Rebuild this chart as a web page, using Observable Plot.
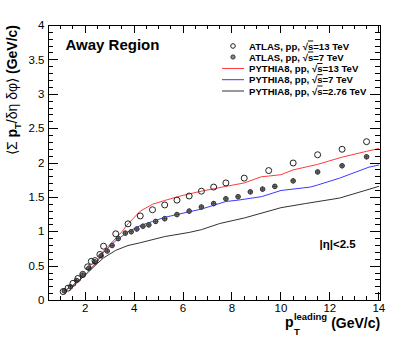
<!DOCTYPE html>
<html><head><meta charset="utf-8">
<script src="https://cdn.jsdelivr.net/npm/d3@7"></script>
<script src="https://cdn.jsdelivr.net/npm/@observablehq/plot@0.6"></script>
<style>body{margin:0;background:#fff}</style>
</head><body><div id="chart"></div>
<script>
// ATLAS data, pp 13 TeV (open circles)
const atlas13X = [1.1,1.3,1.5,1.7,1.9,2.1,2.25,2.4,2.6,2.75,3.25,3.75,4.25,4.75,5.25,5.75,6.25,6.75,7.25,7.75,8.5,9.5,10.5,11.5,12.5,13.5];
const atlas13Y = [0.13,0.18,0.25,0.32,0.38,0.49,0.57,0.58,0.67,0.79,0.97,1.115,1.23,1.32,1.39,1.46,1.52,1.59,1.65,1.71,1.78,1.89,2.0,2.12,2.2,2.31];
// ATLAS data, pp 7 TeV
const atlas7X = [1.15,1.4,1.65,1.9,2.15,2.4,2.65,2.9,3.1,3.35,3.64,3.88,4.11,4.36,4.6,4.88,5.25,5.75,6.25,6.75,7.25,7.75,8.25,8.75,9.25,9.75,10.5,11.5,12.5,13.5];
const atlas7Y = [0.14,0.2,0.29,0.37,0.47,0.56,0.65,0.72,0.8,0.9,0.98,1.0,1.04,1.08,1.1,1.15,1.19,1.25,1.3,1.36,1.41,1.48,1.51,1.58,1.62,1.66,1.74,1.87,1.96,2.09];
// PYTHIA8 curves
const py13X = [1.1,1.5,2,2.5,2.75,3,3.5,3.75,4.25,4.75,5.25,6,6.75,7.75,8.5,9.2,9.5,10,10.5,11.5,12.5,13.5,14];
const py13Y = [0.13,0.22,0.37,0.57,0.72,0.81,1.0,1.115,1.3,1.4,1.455,1.53,1.59,1.66,1.71,1.8,1.81,1.83,1.9,1.98,2.085,2.17,2.21];
const py7X = [1.1,1.5,2,2.5,2.75,3.25,3.75,4.25,4.75,5.25,5.75,6.75,7.75,8.25,9.2,10,11.2,11.5,12.4,13.6,14];
const py7Y = [0.13,0.22,0.37,0.57,0.7,0.87,1.0,1.09,1.15,1.21,1.25,1.33,1.44,1.46,1.51,1.6,1.65,1.68,1.78,1.94,1.97];
const py276X = [1.1,1.5,2,2.5,2.75,3.25,3.75,4.25,5.25,6.25,6.75,7.5,8.5,10,11,12.4,14];
const py276Y = [0.13,0.22,0.37,0.54,0.62,0.73,0.8,0.84,0.93,0.99,1.03,1.12,1.2,1.35,1.41,1.49,1.66];
// ticks
const xMajor = [2,4,6,8,10,12,14];
const xMinor = d3.range(1,14.01,0.5).filter(v => v % 2 !== 0);
const yMajor = [0,0.5,1,1.5,2,2.5,3,3.5,4];
const yMinor = d3.range(1,40).filter(k => k % 5 !== 0).map(k => k / 10);
const legendLabels = ["13 TeV","7 TeV","13 TeV","7 TeV","2.76 TeV"];

const zip = (xs, ys) => xs.map((x, i) => ({x, y: ys[i]}));
const a13 = zip(atlas13X, atlas13Y), a7 = zip(atlas7X, atlas7Y);
const p13 = zip(py13X, py13Y), p7 = zip(py7X, py7Y), p276 = zip(py276X, py276Y);

const W = 415, H = 344, mL = 48, mR = 35, mT = 25, mB = 44;
const xD = [0.5, 14.07], yD = [0, 4];

const chart = Plot.plot({
  width: W, height: H,
  marginLeft: mL, marginRight: mR, marginTop: mT, marginBottom: mB,
  style: {fontFamily: "Liberation Sans, Arial, sans-serif"},
  x: {domain: xD},
  y: {domain: yD},
  marks: [
    Plot.axisX({ticks: xMajor, tickSize: 0, tickPadding: 3, fontSize: 11.5, label: null, tickFormat: d => String(d), color: "#000"}),
    Plot.axisY({ticks: yMajor, tickSize: 0, tickPadding: 4, fontSize: 11.5, label: null, tickFormat: d => String(d), color: "#000"}),
    Plot.frame({stroke: "#000", fill: "none"}),
    Plot.line(p276, {x: "x", y: "y", stroke: "#333", strokeWidth: 1}),
    Plot.line(p7, {x: "x", y: "y", stroke: "#3b3bff", strokeWidth: 1}),
    Plot.line(p13, {x: "x", y: "y", stroke: "#ff3b3b", strokeWidth: 1}),
    Plot.dot(a7, {x: "x", y: "y", r: 2.3, fill: "#8a8a8a", stroke: "#333", strokeWidth: 1}),
    Plot.dot(a7, {x: "x", y: "y", r: 1.8, symbol: "plus", stroke: "#333", strokeWidth: 0.8}),
    Plot.dot(a13, {x: "x", y: "y", r: 3, fill: "none", stroke: "#222", strokeWidth: 1}),
    Plot.text(["Away Region"], {frameAnchor: "top-left", dx: 17, dy: 14, fontSize: 15, fontWeight: "bold", textAnchor: "start", lineAnchor: "top", fill: "#000"}),
    Plot.text(["|η|<2.5"], {frameAnchor: "top-left", dx: 271, dy: 214, fontSize: 11.5, fontWeight: "bold", textAnchor: "start", lineAnchor: "top", fill: "#000"})
  ]
});

const svg = d3.select(chart);
// inward ROOT-style ticks on all four sides, positioned with Plot's own scales (pixel-snapped)
const sx = chart.scale("x"), sy = chart.scale("y");
const snap = p => Math.round(p) + 0.5;
const X0 = sx.apply(xD[0]), X1 = sx.apply(xD[1]), Y0 = sy.apply(yD[0]), Y1 = sy.apply(yD[1]);
const seg = (x1, y1, x2, y2) => svg.append("line")
  .attr("x1", x1).attr("y1", y1).attr("x2", x2).attr("y2", y2)
  .attr("stroke", "#000").attr("stroke-width", 1).attr("shape-rendering", "crispEdges");
xMajor.forEach(v => { const p = snap(sx.apply(v)); seg(p, Y0, p, Y0 - 8); seg(p, Y1, p, Y1 + 8); });
xMinor.forEach(v => { const p = snap(sx.apply(v)); seg(p, Y0, p, Y0 - 4); seg(p, Y1, p, Y1 + 4); });
yMajor.forEach(v => { const p = snap(sy.apply(v)); seg(X0, p, X0 + 10, p); seg(X1, p, X1 - 10, p); });
yMinor.forEach(v => { const p = snap(sy.apply(v)); seg(X0, p, X0 + 5, p); seg(X1, p, X1 - 5, p); });
// x title
const xt = svg.append("text").attr("x", 285).attr("y", 327).attr("text-anchor", "start").attr("font-size", 14).attr("font-weight", "bold").attr("fill", "#000");
xt.append("tspan").text("p");
xt.append("tspan").attr("font-size", 9.5).attr("dx", 0.5).attr("dy", 8).text("T");
xt.append("tspan").attr("font-size", 9.5).attr("dx", -6).attr("dy", -15).text("leading");
xt.append("tspan").attr("dx", 4).attr("dy", 7.5).text("(GeV/c)");
// y title
const yt = svg.append("text").attr("transform", "translate(17,25) rotate(-90)").attr("text-anchor", "end").attr("font-size", 14).attr("fill", "#000");
yt.append("tspan").text("⟨Σ ");
yt.append("tspan").attr("font-weight", "bold").text("p");
yt.append("tspan").attr("font-weight", "bold").attr("font-size", 9.5).attr("dy", 4).text("T");
yt.append("tspan").attr("dy", -4).text("/δη δφ⟩ ");
yt.append("tspan").attr("font-weight", "bold").text("(GeV/c)");
// legend
const rows = [46, 57, 68.5, 79.7, 91];
const lg = svg.append("g").attr("text-anchor", "start");
const names = ["ATLAS, pp, ", "ATLAS, pp, ", "PYTHIA8, pp, ", "PYTHIA8, pp, ", "PYTHIA8, pp, "];
const lineCols = [null, null, "#ff3b3b", "#3b3bff", "#333"];
rows.forEach((y, i) => {
  if (i === 0) lg.append("circle").attr("cx", 233).attr("cy", y).attr("r", 2.3).attr("fill", "none").attr("stroke", "#222");
  else if (i === 1) {
    lg.append("circle").attr("cx", 233).attr("cy", y).attr("r", 2.1).attr("fill", "#8a8a8a").attr("stroke", "#333");
  } else lg.append("line").attr("x1", 222).attr("x2", 244).attr("y1", y).attr("y2", y).attr("stroke", lineCols[i]);
  const t = lg.append("text").attr("x", 249).attr("y", y + 3.5).attr("text-anchor", "start").attr("font-size", 9.6).attr("font-weight", "bold").attr("fill", "#000");
  t.append("tspan").text(names[i] + "√");
  t.append("tspan").style("text-decoration", "overline").text("s");
  t.append("tspan").text("=" + legendLabels[i]);
});
document.getElementById("chart").appendChild(chart);
</script>
</body></html>
